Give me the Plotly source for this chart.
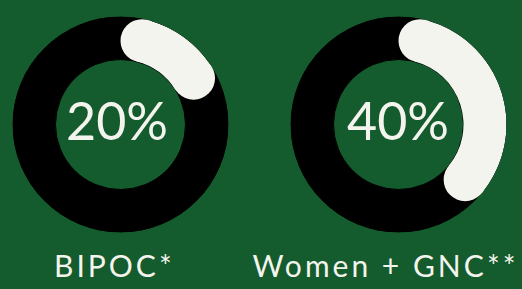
import math
import plotly.graph_objects as go

# ---- data ----
categories = ["BIPOC*", "Women + GNC**"]
percent_values = [20, 40]
center_labels = ["20%", "40%"]

# ---- style ----
BG = "#145b2d"
ARC = "#f4f4ee"
RING = "#000000"
FONT = "Lato, 'Open Sans', sans-serif"

W, H = 522, 289
R_OUT, R_IN = 108, 65
R_MID = (R_OUT + R_IN) / 2
THICK = R_OUT - R_IN
cap_deg = math.degrees(math.asin((THICK / 2) / R_MID))

centers_x = [120.5, 398.5]
center_y = 124.5
value_x = [117, 398]
value_y = 120
label_x = [114, 385]
label_y = 265

fig = go.Figure()
for i, (cat, val) in enumerate(zip(categories, percent_values)):
    pid = "polar" if i == 0 else f"polar{i+1}"
    sub = pid
    # full black ring (four quarters)
    fig.add_trace(go.Barpolar(r=[THICK] * 4, base=[R_IN] * 4, theta=[45, 135, 225, 315],
                              width=[90] * 4, marker=dict(color=RING, line=dict(width=1, color=RING)),
                              subplot=sub, hoverinfo="skip", showlegend=False))
    span = val / 100 * 360
    fig.add_trace(go.Barpolar(r=[THICK], base=[R_IN], theta=[span / 2],
                              width=[span - 2 * cap_deg],
                              marker=dict(color=ARC, line=dict(width=0)),
                              subplot=sub, hoverinfo="skip", showlegend=False))
    fig.add_trace(go.Scatterpolar(r=[R_MID, R_MID], theta=[cap_deg, span - cap_deg],
                                  mode="markers",
                                  marker=dict(color=ARC, size=THICK, line=dict(width=0)),
                                  subplot=sub, hoverinfo="skip", showlegend=False))
    cx = centers_x[i]
    fig.layout[pid] = dict(
        domain=dict(x=[(cx - R_OUT) / W, (cx + R_OUT) / W],
                    y=[1 - (center_y + R_OUT) / H, 1 - (center_y - R_OUT) / H]),
        bgcolor="rgba(0,0,0,0)",
        radialaxis=dict(range=[0, R_OUT], visible=False),
        angularaxis=dict(rotation=90, direction="clockwise", visible=False),
        barmode="overlay",
    )
    fig.add_annotation(x=value_x[i] / W, y=1 - value_y / H, xref="paper", yref="paper",
                       text=center_labels[i], showarrow=False, xanchor="center", yanchor="middle",
                       font=dict(family=FONT, size=52, color=ARC))
    fig.add_annotation(x=label_x[i] / W, y=1 - label_y / H, xref="paper", yref="paper",
                       text=cat, showarrow=False, xanchor="center", yanchor="middle",
                       font=dict(family=FONT, size=30, color=ARC), name="label")

fig.update_layout(width=W, height=H, margin=dict(l=0, r=0, t=0, b=0),
                  paper_bgcolor=BG, plot_bgcolor=BG, showlegend=False)

post = """
document.body.style.margin='0';
var t = document.querySelectorAll('.annotation-text');
t.forEach(function(e){ if (e.textContent.indexOf('%') < 0) { e.style.letterSpacing = '3px'; } });
"""
fig.write_html("out.html", post_script=post, config={"displayModeBar": False})
